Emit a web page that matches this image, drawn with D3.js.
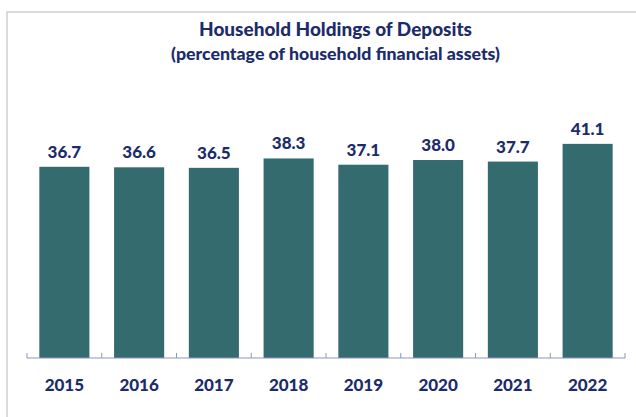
<!DOCTYPE html>
<html>
<head>
<meta charset="utf-8">
<script src="https://cdn.jsdelivr.net/npm/d3@7"></script>
<style>
  html, body { margin: 0; padding: 0; background: #fff; }
  svg { display: block; }
</style>
</head>
<body>
<div id="chart"></div>
<script>
const years = ["2015", "2016", "2017", "2018", "2019", "2020", "2021", "2022"];
const deposits = [36.7, 36.6, 36.5, 38.3, 37.1, 38.0, 37.7, 41.1];
const titleText = "Household Holdings of Deposits";
const subtitleText = "(percentage of household financial assets)";

const W = 636, H = 417;
const navy = "#1c2c6a";
const barColor = "#336b6f";
const font = "Lato, 'Open Sans', sans-serif";
const weight = 900;

const svg = d3.select("#chart").append("svg")
  .attr("width", W).attr("height", H);

// chart border
svg.append("rect")
  .attr("x", 7).attr("y", 12)
  .attr("width", 660).attr("height", 430)
  .attr("fill", "none")
  .attr("stroke", "#cfcfcf")
  .attr("stroke-width", 1.5);

// titles
svg.append("text")
  .attr("x", 335.5).attr("y", 36)
  .attr("text-anchor", "middle")
  .attr("font-family", font).attr("font-weight", weight)
  .attr("font-size", 18.5).attr("fill", navy)
  .attr("textLength", 273).attr("lengthAdjust", "spacingAndGlyphs")
  .text(titleText);
svg.append("text")
  .attr("x", 335.5).attr("y", 60)
  .attr("text-anchor", "middle")
  .attr("font-family", font).attr("font-weight", weight)
  .attr("font-size", 17).attr("fill", navy)
  .attr("textLength", 329).attr("lengthAdjust", "spacingAndGlyphs")
  .text(subtitleText);

const x = d3.scaleBand()
  .domain(years)
  .range([27, 625])
  .paddingInner(0.33)
  .paddingOuter(0.165);

const y = d3.scaleLinear()
  .domain([0, 60])
  .range([358, 45.4]);

const data = years.map((yr, i) => ({ year: yr, value: deposits[i] }));

// bars
svg.append("g").selectAll("rect")
  .data(data)
  .join("rect")
  .attr("x", d => x(d.year))
  .attr("y", d => y(d.value))
  .attr("width", x.bandwidth())
  .attr("height", d => y(0) - y(d.value))
  .attr("fill", barColor);

// value labels
svg.append("g").selectAll("text")
  .data(data)
  .join("text")
  .attr("x", d => x(d.year) + x.bandwidth() / 2)
  .attr("y", d => y(d.value) - 9)
  .attr("text-anchor", "middle")
  .attr("font-family", font).attr("font-weight", weight)
  .attr("font-size", 17).attr("fill", navy)
  .text(d => d.value.toFixed(1));

// axis line and ticks at band boundaries
const axisColor = "#8d97b8";
const axisG = svg.append("g");
axisG.append("line")
  .attr("x1", 27).attr("x2", 625)
  .attr("y1", y(0)).attr("y2", y(0))
  .attr("stroke", axisColor).attr("stroke-width", 1);
const step = x.step();
const boundaries = d3.range(years.length + 1).map(i => x.range()[0] + i * step);
axisG.selectAll("line.tick")
  .data(boundaries)
  .join("line")
  .attr("class", "tick")
  .attr("x1", d => d).attr("x2", d => d)
  .attr("y1", y(0)).attr("y2", y(0) - 5)
  .attr("stroke", axisColor).attr("stroke-width", 1);

// year labels
svg.append("g").selectAll("text")
  .data(data)
  .join("text")
  .attr("x", d => x(d.year) + x.bandwidth() / 2)
  .attr("y", 391)
  .attr("text-anchor", "middle")
  .attr("font-family", font).attr("font-weight", weight)
  .attr("font-size", 17).attr("fill", navy)
  .text(d => d.year);
</script>
</body>
</html>
